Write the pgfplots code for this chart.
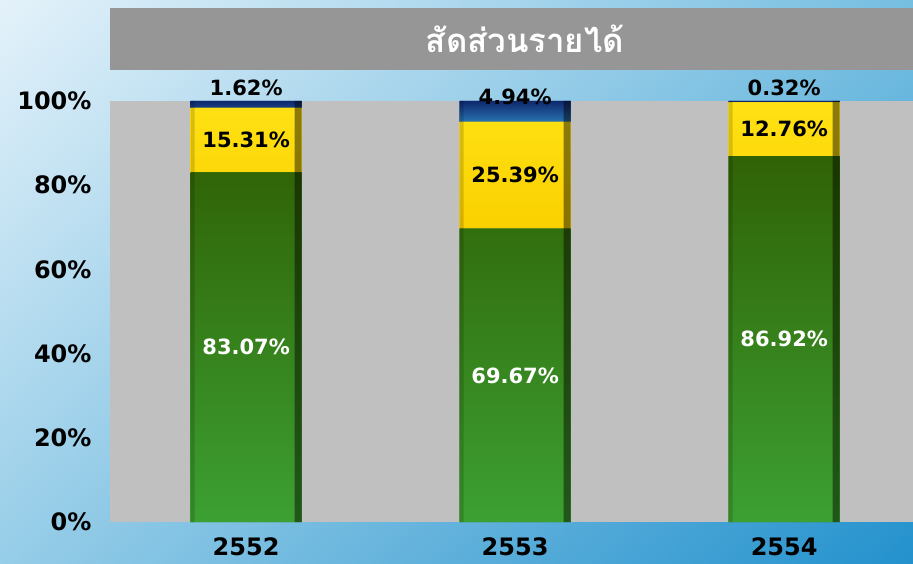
\documentclass[border=0pt]{standalone}
\usepackage{fontspec}
\setmainfont{DejaVu Sans}
\newfontfamily\thaifont[Script=Thai]{Loma}
\usepackage{pgfplots}
\pgfplotsset{compat=1.18}
\usetikzlibrary{shadings}
\definecolor{bgUL}{RGB}{228,242,250}
\definecolor{bgUR}{RGB}{118,190,225}
\definecolor{bgLL}{RGB}{150,205,232}
\definecolor{bgLR}{RGB}{35,145,205}
\definecolor{titlegray}{RGB}{150,150,150}
\definecolor{plotgray}{RGB}{192,192,192}
\definecolor{gTop}{RGB}{48,98,5}
\definecolor{gMid}{RGB}{56,118,16}
\definecolor{gBot}{RGB}{60,160,50}
\definecolor{yTop}{RGB}{255,226,20}
\definecolor{yMid}{RGB}{255,215,0}
\definecolor{yBot}{RGB}{250,208,0}
\definecolor{bTop}{RGB}{15,40,110}
\definecolor{bMid}{RGB}{22,60,135}
\definecolor{bBot}{RGB}{40,115,175}
\tikzset{bevel/.style n args={3}{fill=#2, draw=none, path picture={
  \shade[path picture={}, draw=none, top color=#1, middle color=#2, bottom color=#3] (path picture bounding box.south west) rectangle (path picture bounding box.north east);
}}}
\pgfplotsset{samebox/.style={
  at={(110pt,41pt)}, anchor=south west,
  scale only axis, width=803pt, height=421pt,
  xmin=-0.506, xmax=2.479, ymin=0, ymax=100,
  clip=false}}
\begin{document}
\begin{tikzpicture}
\useasboundingbox (0pt,0pt) rectangle (913pt,563pt);
\shade[upper left=bgUL, upper right=bgUR, lower left=bgLL, lower right=bgLR] (0pt,0pt) rectangle (913pt,563pt);
\fill[titlegray] (110pt,493pt) rectangle (913pt,555pt);
\node[text=white, inner sep=0pt] at (525pt,524pt) {\thaifont\bfseries\fontsize{33}{36}\selectfont สัดส่วนรายได้};
\begin{axis}[
  samebox,
  ybar stacked, bar width=111pt,
  xtick={0,1,2}, xticklabels={2552,2553,2554},
  ytick={0,20,40,60,80,100},
  yticklabels={0\%,20\%,40\%,60\%,80\%,100\%},
  axis background/.style={fill=plotgray},
  axis line style={draw=none},
  major tick length=0pt,
  tick label style={font=\bfseries\fontsize{24}{27}\selectfont},
  y tick label style={xshift=-15pt},
  x tick label style={yshift=-12pt},
]
\addplot[bevel={gTop}{gMid}{gBot}] coordinates {(0,83.07) (1,69.67) (2,86.92)};
\addplot[bevel={yTop}{yMid}{yBot}] coordinates {(0,15.31) (1,25.39) (2,12.76)};
\addplot[bevel={bTop}{bMid}{bBot}] coordinates {(0,1.62) (1,4.94) (2,0.32)};
\end{axis}
\begin{axis}[
  samebox, hide axis, ybar,
  after end axis/.code={
    \node[text=white, font=\bfseries\fontsize{21}{24}\selectfont] at (axis cs:0,41.5) {83.07\%};
    \node[text=white, font=\bfseries\fontsize{21}{24}\selectfont] at (axis cs:1,34.8) {69.67\%};
    \node[text=white, font=\bfseries\fontsize{21}{24}\selectfont] at (axis cs:2,43.5) {86.92\%};
    \node[text=black, font=\bfseries\fontsize{21}{24}\selectfont] at (axis cs:0,90.7) {15.31\%};
    \node[text=black, font=\bfseries\fontsize{21}{24}\selectfont] at (axis cs:1,82.4) {25.39\%};
    \node[text=black, font=\bfseries\fontsize{21}{24}\selectfont] at (axis cs:2,93.3) {12.76\%};
    \node[text=black, font=\bfseries\fontsize{21}{24}\selectfont] at (axis cs:0,103.1) {1.62\%};
    \node[text=black, font=\bfseries\fontsize{21}{24}\selectfont] at (axis cs:1,101.1) {4.94\%};
    \node[text=black, font=\bfseries\fontsize{21}{24}\selectfont] at (axis cs:2,103.1) {0.32\%};
  },
]
% bevel edges of each full bar (each bar totals 100%)
\addplot[fill=black, fill opacity=0.45, draw=none, bar width=7pt, bar shift=52pt] coordinates {(0,100) (1,100) (2,100)};
\addplot[fill=black, fill opacity=0.15, draw=none, bar width=4pt, bar shift=-53.5pt] coordinates {(0,100) (1,100) (2,100)};
\end{axis}
\end{tikzpicture}
\end{document}
